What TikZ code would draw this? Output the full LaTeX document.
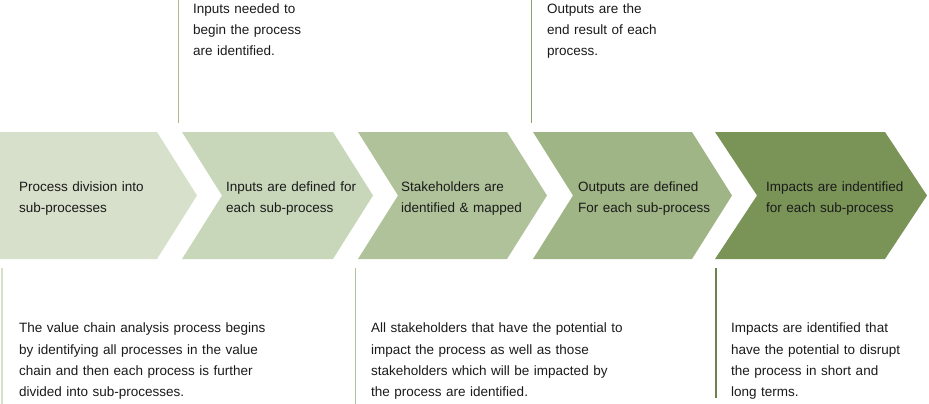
\documentclass[tikz,border=0pt]{standalone}
\usepackage{fontspec}
\setmainfont{Liberation Sans}
\definecolor{cA}{HTML}{D7E0CA}
\definecolor{cB}{HTML}{C8D6BA}
\definecolor{cC}{HTML}{B0C29A}
\definecolor{cD}{HTML}{9FB585}
\definecolor{cE}{HTML}{7A9458}
\definecolor{lnA}{HTML}{A9BB8F}
\definecolor{lnB}{HTML}{8AA26C}
\definecolor{lnE}{HTML}{6A8449}
\definecolor{txt}{HTML}{1A1A1A}
\begin{document}
\begin{tikzpicture}[x=1pt,y=-1pt,
  lbl/.style={anchor=base west,inner sep=0pt,text width=260pt,align=left,
    font=\fontsize{13.5}{21.3}\selectfont,text=txt},
  guide/.style={line width=1.2pt}]
\useasboundingbox (0,0) rectangle (929,404);
% chevrons
\fill[cA] (0,132) -- (157,132) -- (197,195.5) -- (157,259) -- (0,259) -- cycle;
\fill[cB] (182,132) -- (333,132) -- (373,195.5) -- (333,259) -- (182,259) -- (222,195.5) -- cycle;
\fill[cC] (358,132) -- (507,132) -- (547,195.5) -- (507,259) -- (358,259) -- (398,195.5) -- cycle;
\fill[cD] (533,132) -- (692,132) -- (732,195.5) -- (692,259) -- (533,259) -- (573,195.5) -- cycle;
\fill[cE] (715,132) -- (885,132) -- (927,195.5) -- (885,259) -- (715,259) -- (757,195.5) -- cycle;
% chevron labels
\node[lbl] (t1) at (19,191) {Process division into\\sub-processes};
\node[lbl] (t2) at (226,191) {Inputs are defined for\\each sub-process};
\node[lbl] (t3) at (401,191) {Stakeholders are\\identified \& mapped};
\node[lbl] (t4) at (578,191) {Outputs are defined\\For each sub-process};
\node[lbl] (t5) at (766,191) {Impacts are indentified\\for each sub-process};
% guide lines
\coordinate (g1a) at (178.5,0);   \coordinate (g1b) at (178.5,123);
\coordinate (g2a) at (531.5,0);   \coordinate (g2b) at (531.5,123);
\coordinate (g3a) at (2,268);     \coordinate (g3b) at (2,404);
\coordinate (g4a) at (355.5,268); \coordinate (g4b) at (355.5,404);
\coordinate (g5a) at (716,268);   \coordinate (g5b) at (716,398);
\draw[guide,lnA] (g1a) -- (g1b);
\draw[guide,lnB] (g2a) -- (g2b);
\draw[guide,cA] (g3a) -- (g3b);
\draw[guide,cC] (g4a) -- (g4b);
\draw[guide,lnE] (g5a) -- (g5b);
% top notes
\node[lbl] (n1) at (193,13.3) {Inputs needed to\\begin the process\\are identified.};
\node[lbl] (n2) at (547,13.3) {Outputs are the\\end result of each\\process.};
% bottom notes
\node[lbl] (b1) at (19,332.7) {The value chain analysis process begins\\by identifying all processes in the value\\chain and then each process is further\\divided into sub-processes.};
\node[lbl] (b2) at (371,332.7) {All stakeholders that have the potential to\\impact the process as well as those\\stakeholders which will be impacted by\\the process are identified.};
\node[lbl] (b3) at (731,332.7) {Impacts are identified that\\have the potential to disrupt\\the process in short and\\long terms.};
\end{tikzpicture}
\end{document}
